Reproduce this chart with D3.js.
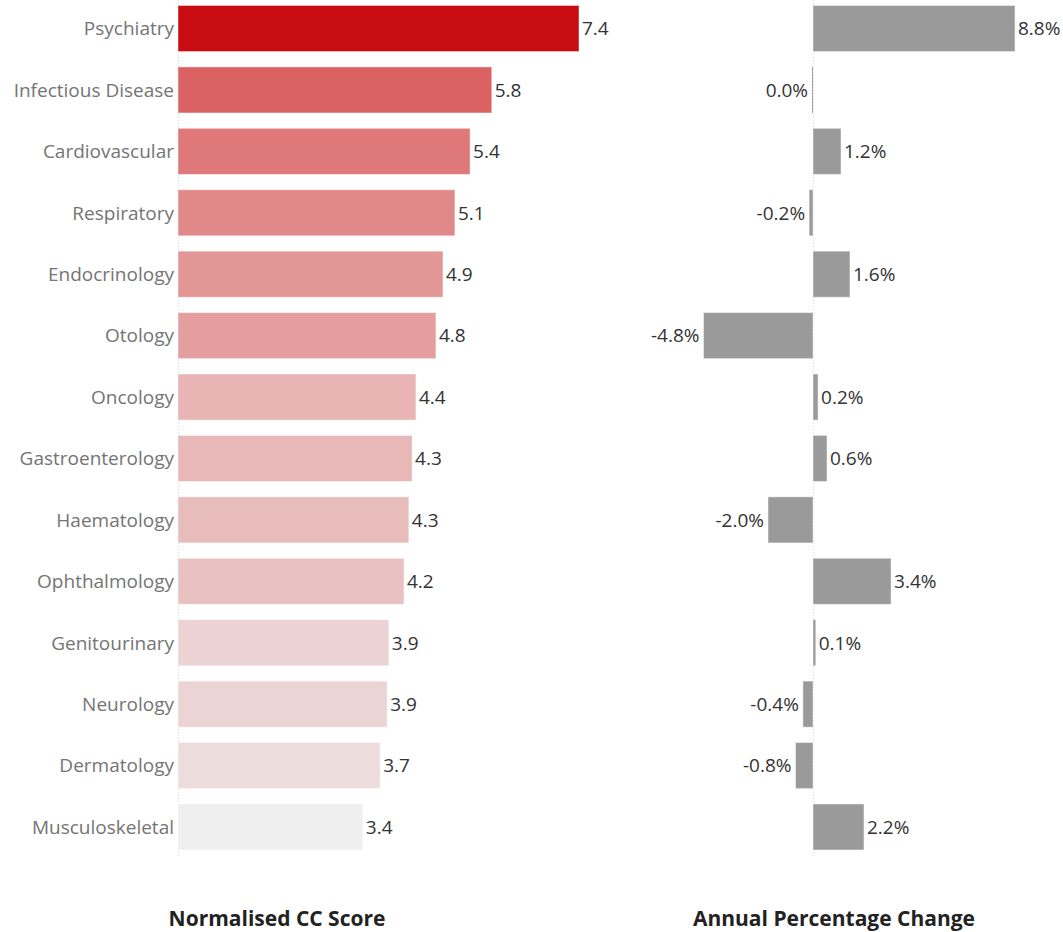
<!DOCTYPE html>
<html>
<head>
<meta charset="utf-8">
<script src="https://cdn.jsdelivr.net/npm/d3@7"></script>
<style>
  html, body { margin: 0; padding: 0; background: #fff; }
  svg { display: block; }
</style>
</head>
<body>
<svg id="chart" width="1063" height="932"></svg>
<script>
// Therapy areas, ordered by normalised CC score
const categories = [
  "Psychiatry", "Infectious Disease", "Cardiovascular", "Respiratory",
  "Endocrinology", "Otology", "Oncology", "Gastroenterology", "Haematology",
  "Ophthalmology", "Genitourinary", "Neurology", "Dermatology", "Musculoskeletal"
];

// Normalised CC score per therapy area
const ccScore = [7.40, 5.79, 5.39, 5.11, 4.89, 4.76, 4.39, 4.32, 4.26, 4.17, 3.89, 3.86, 3.73, 3.41];

// Annual percentage change per therapy area
const annualChange = [8.80, -0.04, 1.22, -0.17, 1.61, -4.77, 0.22, 0.61, -1.96, 3.40, 0.12, -0.44, -0.76, 2.22];

const titles = ["Normalised CC Score", "Annual Percentage Change"];

const svg = d3.select("#chart");
const fontFamily = "'Open Sans', 'Noto Sans', sans-serif";
const labelSize = 19;

const y = d3.scaleBand()
  .domain(categories)
  .range([-2.2, 857.7])
  .paddingInner(0.25)
  .paddingOuter(0.125);

// Left panel: score bars
const xScore = d3.scaleLinear().domain([0, 7.4]).range([178, 579]);
const scoreColor = d3.scaleLinear()
  .domain([3.4, 5.4, 7.4])
  .range(["#f0f0f0", "#df7777", "#c80d12"]);

// Right panel: diverging change bars
const xChange = d3.scaleLinear().domain([0, 8.8]).range([813, 1015]);

const fmtLocale = d3.formatLocale({ decimal: ".", thousands: ",", grouping: [3], currency: ["", ""], minus: "-" });
const fmt1 = fmtLocale.format(".1f");

const rows = categories.map((c, i) => ({ cat: c, score: ccScore[i], change: annualChange[i] }));
const midY = d => y(d.cat) + y.bandwidth() / 2;

// zero reference lines
[xScore(0), xChange(0)].forEach(x0 => {
  svg.append("line")
    .attr("x1", x0 + 0.5).attr("x2", x0 + 0.5)
    .attr("y1", 0).attr("y2", 857)
    .attr("stroke", "#d9d9d9")
    .attr("stroke-width", 1)
    .attr("stroke-dasharray", "1,2");
});

// category labels
svg.append("g").selectAll("text")
  .data(rows).join("text")
  .attr("x", 174)
  .attr("y", midY)
  .attr("dy", "0.36em")
  .attr("text-anchor", "end")
  .attr("font-family", fontFamily)
  .attr("font-size", labelSize)
  .attr("fill", "#747474")
  .text(d => d.cat);

// score bars
svg.append("g").selectAll("rect")
  .data(rows).join("rect")
  .attr("x", xScore(0))
  .attr("y", d => y(d.cat))
  .attr("width", d => xScore(d.score) - xScore(0))
  .attr("height", y.bandwidth())
  .attr("fill", d => scoreColor(d.score))
  .attr("stroke", "rgba(255,255,255,0.45)")
  .attr("stroke-width", 1);

svg.append("g").selectAll("text")
  .data(rows).join("text")
  .attr("x", d => xScore(d.score) + 3)
  .attr("y", midY)
  .attr("dy", "0.36em")
  .attr("font-family", fontFamily)
  .attr("font-size", labelSize)
  .attr("fill", "#333")
  .text(d => fmt1(d.score));

// change bars
svg.append("g").selectAll("rect")
  .data(rows).join("rect")
  .attr("x", d => Math.min(xChange(0), xChange(d.change)))
  .attr("y", d => y(d.cat))
  .attr("width", d => Math.abs(xChange(d.change) - xChange(0)))
  .attr("height", y.bandwidth())
  .attr("fill", "#9a9a9a")
  .attr("stroke", d => Math.abs(d.change) < 0.1 ? "none" : "rgba(255,255,255,0.45)")
  .attr("stroke-width", 1);

svg.append("g").selectAll("text")
  .data(rows).join("text")
  .attr("x", d => d.change < 0 ? xChange(d.change) - 4 : xChange(d.change) + 3)
  .attr("y", midY)
  .attr("dy", "0.36em")
  .attr("text-anchor", d => d.change < 0 ? "end" : "start")
  .attr("font-family", fontFamily)
  .attr("font-size", labelSize)
  .attr("fill", "#333")
  .text(d => fmt1(d.change) + "%");

// panel titles
svg.append("g").selectAll("text")
  .data(titles).join("text")
  .attr("x", (d, i) => i === 0 ? 277 : 834)
  .attr("y", 926)
  .attr("text-anchor", "middle")
  .attr("font-family", fontFamily)
  .attr("font-size", 21)
  .attr("font-weight", 700)
  .attr("fill", "#222")
  .text(d => d);
</script>
</body>
</html>
